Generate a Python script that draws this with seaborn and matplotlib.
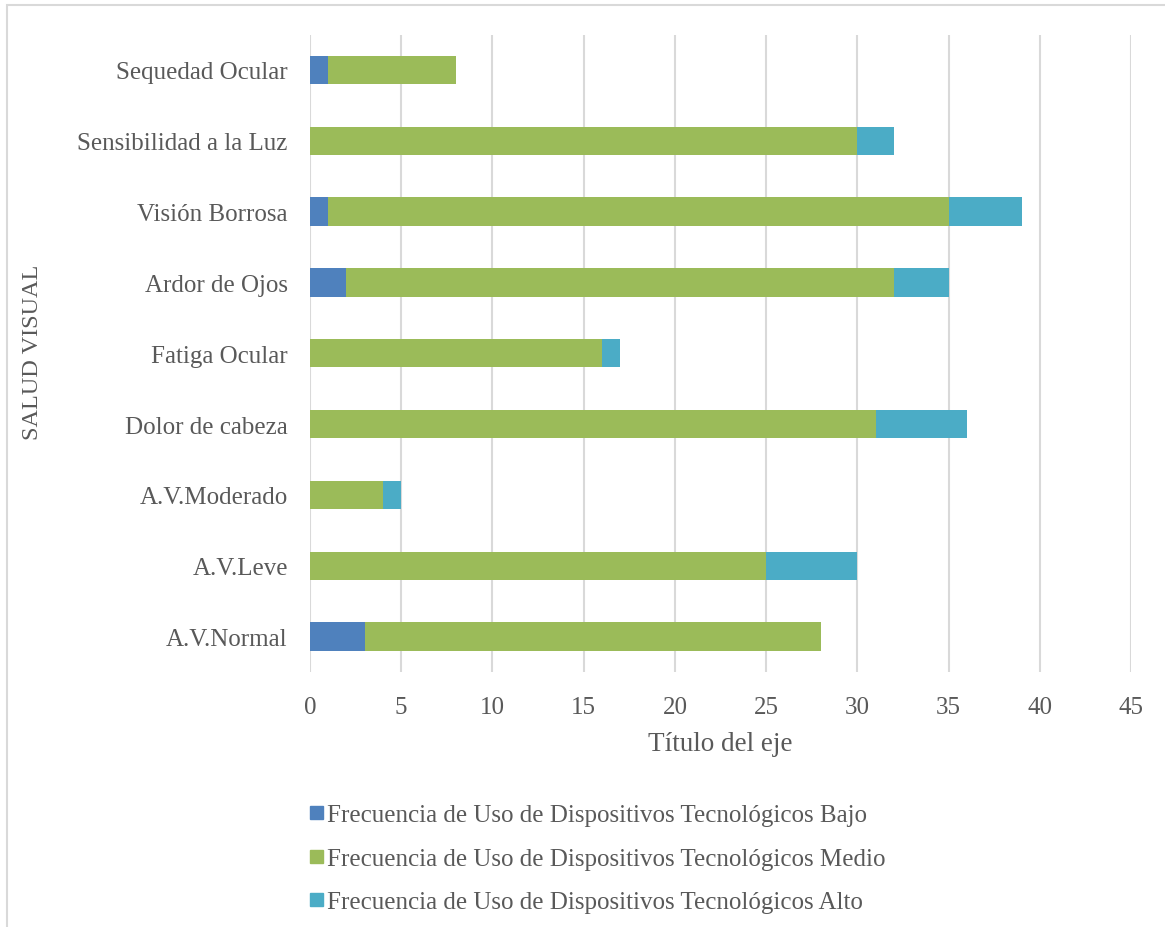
import matplotlib
matplotlib.use("Agg")
import matplotlib.pyplot as plt
from matplotlib.patches import Rectangle
import seaborn as sns
import pandas as pd

# Symptom categories, listed top to bottom
categories = [
    "Sequedad Ocular",
    "Sensibilidad a la Luz",
    "Visión Borrosa",
    "Ardor de Ojos",
    "Fatiga Ocular",
    "Dolor de cabeza",
    "A.V.Moderado",
    "A.V.Leve",
    "A.V.Normal",
]
bajo = [1, 0, 1, 2, 0, 0, 0, 0, 3]
medio = [7, 30, 34, 30, 16, 31, 4, 25, 25]
alto = [0, 2, 4, 3, 1, 5, 1, 5, 0]

series_names = [
    "Frecuencia de Uso de Dispositivos Tecnológicos Bajo",
    "Frecuencia de Uso de Dispositivos Tecnológicos Medio",
    "Frecuencia de Uso de Dispositivos Tecnológicos Alto",
]
x_ticks = [0, 5, 10, 15, 20, 25, 30, 35, 40, 45]

colors = ["#4F81BD", "#9BBB59", "#4BACC6"]
text_color = "#595959"
grid_color = "#D9D9D9"

sns.set_theme(style="white")
plt.rcParams["font.family"] = ["Liberation Serif", "DejaVu Serif"]

df = pd.DataFrame({"cat": categories, "bajo": bajo, "medio": medio, "alto": alto})
df["c1"] = df["bajo"]
df["c2"] = df["bajo"] + df["medio"]
df["c3"] = df["c2"] + df["alto"]

fig = plt.figure(figsize=(11.65, 9.28), dpi=100)
ax = fig.add_axes([310 / 1165, 1 - 673 / 928, (1131 - 310) / 1165, (673 - 35.5) / 928])

# Stacked bars: draw cumulative totals back to front
for col, color in zip(["c3", "c2", "c1"], [colors[2], colors[1], colors[0]]):
    sns.barplot(data=df, x=col, y="cat", order=categories, orient="h",
                color=color, width=0.4, linewidth=0, saturation=1, ax=ax, zorder=3)

ax.set_xlim(0, 45)
ax.set_ylim(8.5, -0.5)
ax.set_xticks(x_ticks)
ax.set_xticklabels([str(t) for t in x_ticks])
for t in x_ticks:
    ax.axvline(t, color=grid_color, lw=1.5, zorder=1)
for s in ax.spines.values():
    s.set_visible(False)
ax.tick_params(axis="both", length=0, labelsize=18, colors=text_color)
ax.tick_params(axis="x", pad=17)
ax.tick_params(axis="y", pad=16)
ax.set_xlabel("")
ax.set_ylabel("")

fig.text(720 / 1165, 1 - 745 / 928, "Título del eje", ha="center", va="center",
         fontsize=19.5, color=text_color)
fig.text(33 / 1165, 1 - 352 / 928, "SALUD VISUAL", ha="center", va="center",
         rotation=90, fontsize=17.5, color=text_color)

# Legend rows
legend_y = [816, 860, 903]
for name, color, yy in zip(series_names, colors, legend_y):
    fig.patches.append(Rectangle((310 / 1165, 1 - (yy + 4) / 928), 13 / 1165, 13 / 928,
                                 transform=fig.transFigure, color=color, figure=fig))
    fig.text(327 / 1165, 1 - yy / 928, name, ha="left", va="center",
             fontsize=18, color=text_color)

# Chart border
fig.patches.append(Rectangle((7 / 1165, -0.01), 1.02, 1 - 6 / 928 + 0.01,
                             transform=fig.transFigure, fill=False,
                             edgecolor=grid_color, lw=1.5, figure=fig))

fig.savefig("out.png", dpi=100, facecolor="white")
